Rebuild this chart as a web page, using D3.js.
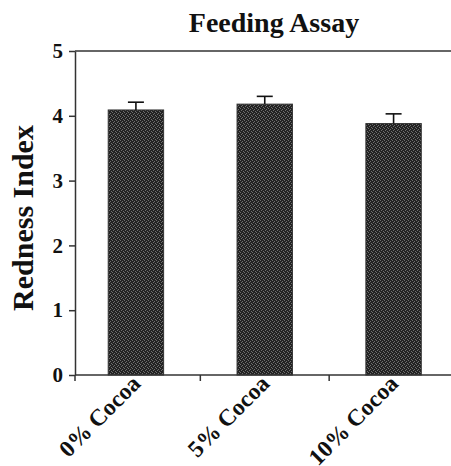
<!DOCTYPE html>
<html>
<head>
<meta charset="utf-8">
<script src="https://cdn.jsdelivr.net/npm/d3@7"></script>
<style>
  body { margin: 0; background: #fff; }
  text { font-family: "Liberation Serif", "Times New Roman", serif; font-weight: bold; fill: #111; }
</style>
</head>
<body>
<svg id="vis"></svg>
<script>
const WIDTH = 451;
const HEIGHT = 466;

// data
const categories = ["0% Cocoa", "5% Cocoa", "10% Cocoa"];
const means = [4.09, 4.18, 3.88];
const errors = [0.12, 0.12, 0.15];
const yTicks = [0, 1, 2, 3, 4, 5];

const AXIS_X = 75;
const Y_TOP = 51;
const Y_BOTTOM = 375;

const svg = d3.select("#vis")
    .attr("width", WIDTH)
    .attr("height", HEIGHT);

// stippled dark fill like the printed bars
const defs = svg.append("defs");
const pat = defs.append("pattern")
    .attr("id", "stipple")
    .attr("width", 4)
    .attr("height", 4)
    .attr("patternUnits", "userSpaceOnUse");
pat.append("rect").attr("width", 4).attr("height", 4).attr("fill", "#222");
[[0, 0], [2, 1], [1, 2], [3, 3]].forEach(p => {
    pat.append("rect")
        .attr("x", p[0]).attr("y", p[1])
        .attr("width", 1).attr("height", 1)
        .attr("fill", "#6e6e6e");
});

const x = d3.scaleBand()
    .domain(categories)
    .range([71.5, 458]);

const y = d3.scaleLinear()
    .domain([0, 5])
    .range([Y_BOTTOM, Y_TOP]);

const barW = x.bandwidth() * 0.43;
const data = categories.map((c, i) => ({cat: c, mean: means[i], err: errors[i]}));

// top frame line at y = 5
svg.append("line")
    .attr("x1", AXIS_X).attr("x2", WIDTH)
    .attr("y1", y(5)).attr("y2", y(5))
    .attr("stroke", "#333").attr("stroke-width", 1.5);

// bars
svg.selectAll(".bars").data(data).join("rect")
    .attr("class", "bars")
    .attr("x", d => x(d.cat) + x.bandwidth() / 2 - barW / 2)
    .attr("width", barW)
    .attr("y", d => y(d.mean))
    .attr("height", d => y(0) - y(d.mean))
    .attr("fill", "url(#stipple)")
    .attr("stroke", "#333")
    .attr("stroke-width", 1);

// error bars (upper only)
const eb = svg.selectAll(".err").data(data).join("g").attr("class", "err")
    .attr("stroke", "#111").attr("stroke-width", 1.6);
eb.append("line")
    .attr("x1", d => x(d.cat) + x.bandwidth() / 2)
    .attr("x2", d => x(d.cat) + x.bandwidth() / 2)
    .attr("y1", d => y(d.mean))
    .attr("y2", d => y(d.mean + d.err));
eb.append("line")
    .attr("x1", d => x(d.cat) + x.bandwidth() / 2 - 8)
    .attr("x2", d => x(d.cat) + x.bandwidth() / 2 + 8)
    .attr("y1", d => y(d.mean + d.err))
    .attr("y2", d => y(d.mean + d.err));

// y axis
const yAxis = svg.append("g")
    .attr("transform", "translate(" + AXIS_X + ",0)")
    .call(d3.axisLeft(y).tickValues(yTicks).tickFormat(d3.format("d"))
        .tickSize(6).tickPadding(6).tickSizeOuter(0));
yAxis.select(".domain").attr("stroke", "#333").attr("stroke-width", 1.5);
yAxis.selectAll(".tick line").attr("stroke", "#333").attr("stroke-width", 1.5);
yAxis.selectAll(".tick text")
    .attr("font-size", 21)
    .attr("font-family", "Liberation Serif")
    .attr("font-weight", "bold")
    .attr("fill", "#111");

// x axis line with ticks between the groups
const xAxis = svg.append("g");
xAxis.append("line")
    .attr("x1", AXIS_X).attr("x2", WIDTH)
    .attr("y1", y(0)).attr("y2", y(0))
    .attr("stroke", "#333").attr("stroke-width", 1.5);
xAxis.selectAll(".xtick").data(categories).join("line")
    .attr("class", "xtick")
    .attr("x1", (d, i) => i === 0 ? AXIS_X : x(d))
    .attr("x2", (d, i) => i === 0 ? AXIS_X : x(d))
    .attr("y1", y(0))
    .attr("y2", y(0) + 6)
    .attr("stroke", "#333").attr("stroke-width", 1.5);

// category labels, rotated
xAxis.selectAll(".xlabel").data(categories).join("text")
    .attr("class", "xlabel")
    .attr("text-anchor", "end")
    .attr("font-size", 23.5)
    .attr("transform", d => "translate(" + (x(d) + x.bandwidth() / 2 + 6) + "," + (y(0) + 10) + ") rotate(-45)")
    .text(d => d);

// y label
svg.append("text")
    .attr("text-anchor", "middle")
    .attr("font-size", 30)
    .attr("transform", "translate(33," + 218 + ") rotate(-90)")
    .text("Redness Index");

// title
svg.append("text")
    .attr("text-anchor", "middle")
    .attr("x", 274)
    .attr("y", 32)
    .attr("font-size", 28)
    .text("Feeding Assay");
</script>
</body>
</html>
